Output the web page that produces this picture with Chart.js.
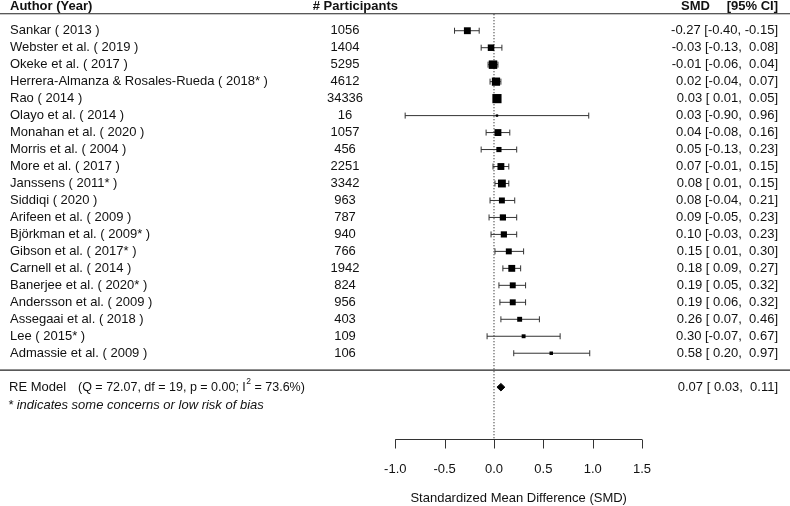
<!DOCTYPE html>
<html>
<head>
<meta charset="utf-8">
<title>Forest plot</title>
<script src="https://cdn.jsdelivr.net/npm/chart.js@4.4.1/dist/chart.umd.min.js"></script>
<style>
    html, body { margin: 0; padding: 0; background: #ffffff; }
    #wrap { width: 790px; height: 506px; position: relative; }
</style>
</head>
<body>
<div id="wrap"><canvas id="forestChart"></canvas></div>
<script>
/* ===============================
   DATA
================================ */
const authors = [
    "Sankar ( 2013 )", "Webster et al. ( 2019 )", "Okeke et al. ( 2017 )",
    "Herrera-Almanza & Rosales-Rueda ( 2018* )", "Rao ( 2014 )", "Olayo et al. ( 2014 )",
    "Monahan et al. ( 2020 )", "Morris et al. ( 2004 )", "More et al. ( 2017 )",
    "Janssens ( 2011* )", "Siddiqi ( 2020 )", "Arifeen et al. ( 2009 )",
    "Björkman et al. ( 2009* )", "Gibson et al. ( 2017* )", "Carnell et al. ( 2014 )",
    "Banerjee et al. ( 2020* )", "Andersson et al. ( 2009 )", "Assegaai et al. ( 2018 )",
    "Lee ( 2015* )", "Admassie et al. ( 2009 )"
];
const participants = [1056, 1404, 5295, 4612, 34336, 16, 1057, 456, 2251, 3342,
    963, 787, 940, 766, 1942, 824, 956, 403, 109, 106];
const smd = [-0.27, -0.03, -0.01, 0.02, 0.03, 0.03, 0.04, 0.05, 0.07, 0.08,
    0.08, 0.09, 0.10, 0.15, 0.18, 0.19, 0.19, 0.26, 0.30, 0.58];
const ciLow = [-0.40, -0.13, -0.06, -0.04, 0.01, -0.90, -0.08, -0.13, -0.01, 0.01,
    -0.04, -0.05, -0.03, 0.01, 0.09, 0.05, 0.06, 0.07, -0.07, 0.20];
const ciHigh = [-0.15, 0.08, 0.04, 0.07, 0.05, 0.96, 0.16, 0.23, 0.15, 0.15,
    0.21, 0.23, 0.23, 0.30, 0.27, 0.32, 0.32, 0.46, 0.67, 0.97];
// approximate study weights (%), judged from square sizes
const weights = [5.5, 5.1, 7.4, 7.1, 8.2, 0.3, 5.5, 3.5, 5.5, 6.7,
    4.4, 4.7, 4.7, 4.4, 5.5, 4.4, 4.4, 3.2, 2.0, 1.5];

const reEstimate = 0.07;
const reLow = 0.03;
const reHigh = 0.11;
const reLabel = "RE Model";
const reStats = ["(Q = 72.07, df = 19, p = 0.00; I", "2", " = 73.6%)"];
const noteText = "* indicates some concerns or low risk of bias";

const xTicks = [-1.0, -0.5, 0.0, 0.5, 1.0, 1.5];
const xTickLabels = ["-1.0", "-0.5", "0.0", "0.5", "1.0", "1.5"];
const xTitle = "Standardized Mean Difference (SMD)";

/* ===============================
   LAYOUT (row units on y, SMD units on x)
================================ */
const FONT = "'Liberation Sans', Arial, sans-serif";
const TEXT_COLOR = "#111111";
const LINE_COLOR = "#333333";

const X_MIN = -5.005, X_MAX = 2.999;
const Y_MIN = -0.81, Y_MAX = 29.0;

const HEADER_ROW = -0.45;
const TOP_RULE = 0;
const BOTTOM_RULE = 21;
const RE_ROW = 22;
const NOTE_ROW = 23.05;
const AXIS_ROW = 25.05;
const TICK_LABEL_ROW = 26.87;
const TITLE_ROW = 28.57;

const rows = authors.map((a, i) => i + 1);

function squareRadius(w) {
    const side = 2.2 + 0.85 * w;
    return side / Math.SQRT2;
}

function padNum(v) {
    return (v < 0 ? "" : " ") + v.toFixed(2);
}

function ciText(est, lo, hi) {
    return est.toFixed(2) + " [" + padNum(lo) + ", " + padNum(hi) + "]";
}

/* ===============================
   DATASETS
================================ */
const squareSet = {
    type: "scatter",
    data: smd.map((v, i) => ({ x: v, y: rows[i] })),
    pointStyle: "rect",
    pointRadius: weights.map(squareRadius),
    backgroundColor: "#000000",
    borderWidth: 0,
    clip: false
};

const capSet = {
    type: "scatter",
    data: rows.flatMap((r, i) => [{ x: ciLow[i], y: r }, { x: ciHigh[i], y: r }]),
    pointStyle: "line",
    rotation: 90,
    pointRadius: 3,
    borderColor: LINE_COLOR,
    borderWidth: 1,
    clip: false
};

const whiskerSets = rows.map((r, i) => ({
    type: "line",
    data: [{ x: ciLow[i], y: r }, { x: ciHigh[i], y: r }],
    borderColor: LINE_COLOR,
    borderWidth: 1,
    pointRadius: 0,
    clip: false
}));

const diamondSet = {
    type: "line",
    data: [
        { x: reLow, y: RE_ROW },
        { x: reEstimate, y: RE_ROW - 0.22 },
        { x: reHigh, y: RE_ROW },
        { x: reEstimate, y: RE_ROW + 0.22 },
        { x: reLow, y: RE_ROW }
    ],
    borderColor: "#000000",
    backgroundColor: "#000000",
    borderWidth: 1,
    fill: "shape",
    pointRadius: 0,
    tension: 0,
    clip: false
};

const nullLineSet = {
    type: "line",
    data: [{ x: 0, y: 0.03 }, { x: 0, y: AXIS_ROW }],
    borderColor: "#000000",
    borderWidth: 1,
    borderDash: [1, 2],
    pointRadius: 0,
    clip: false
};

const ruleSets = [TOP_RULE, BOTTOM_RULE].map(r => ({
    type: "line",
    data: [{ x: X_MIN, y: r }, { x: X_MAX, y: r }],
    borderColor: "#222222",
    borderWidth: 1.2,
    pointRadius: 0,
    clip: false
}));

/* ===============================
   TEXT + BOTTOM AXIS PLUGIN
================================ */
const forestText = {
    id: "forestText",
    afterDatasetsDraw(chart) {
        const { ctx } = chart;
        const x = chart.scales.x;
        const y = chart.scales.y;

        ctx.save();
        ctx.fillStyle = TEXT_COLOR;
        ctx.textBaseline = "middle";

        // headers
        ctx.font = "bold 13px " + FONT;
        const hy = y.getPixelForValue(HEADER_ROW);
        ctx.textAlign = "left";
        ctx.fillText("Author (Year)", 10, hy);
        ctx.textAlign = "right";
        ctx.fillText("# Participants", 398, hy);
        ctx.fillText("SMD", 710, hy);
        ctx.fillText("[95% CI]", 778, hy);

        // study rows
        ctx.font = "13px " + FONT;
        rows.forEach((r, i) => {
            const py = y.getPixelForValue(r);
            ctx.textAlign = "left";
            ctx.fillText(authors[i], 10, py);
            ctx.textAlign = "center";
            ctx.fillText(String(participants[i]), 345, py);
            ctx.textAlign = "right";
            ctx.fillText(ciText(smd[i], ciLow[i], ciHigh[i]), 778, py);
        });

        // summary row
        const ry = y.getPixelForValue(RE_ROW);
        ctx.textAlign = "left";
        ctx.fillText(reLabel, 9, ry);
        ctx.font = "12.5px " + FONT;
        let sx = 78;
        ctx.fillText(reStats[0], sx, ry);
        sx += ctx.measureText(reStats[0]).width;
        ctx.font = "8.5px " + FONT;
        ctx.fillText(reStats[1], sx + 0.5, ry - 6);
        sx += ctx.measureText(reStats[1]).width + 0.5;
        ctx.font = "12.5px " + FONT;
        ctx.fillText(reStats[2], sx, ry);
        ctx.font = "13px " + FONT;
        ctx.textAlign = "right";
        ctx.fillText(ciText(reEstimate, reLow, reHigh), 778, ry);

        // note
        ctx.textAlign = "left";
        ctx.font = "italic 13px " + FONT;
        ctx.fillText(noteText, 8, y.getPixelForValue(NOTE_ROW));

        // bottom axis
        const ay = Math.round(y.getPixelForValue(AXIS_ROW)) + 0.5;
        const x0 = x.getPixelForValue(xTicks[0]);
        const x1 = x.getPixelForValue(xTicks[xTicks.length - 1]);
        ctx.strokeStyle = LINE_COLOR;
        ctx.lineWidth = 1;
        ctx.beginPath();
        ctx.moveTo(x0, ay);
        ctx.lineTo(x1, ay);
        xTicks.forEach(t => {
            const tx = Math.round(x.getPixelForValue(t)) + 0.5;
            ctx.moveTo(tx, ay);
            ctx.lineTo(tx, ay + 9);
        });
        ctx.stroke();

        ctx.font = "13px " + FONT;
        ctx.textAlign = "center";
        const ty = y.getPixelForValue(TICK_LABEL_ROW);
        xTicks.forEach((t, i) => {
            ctx.fillText(xTickLabels[i], x.getPixelForValue(t), ty);
        });
        ctx.fillText(xTitle, (x0 + x1) / 2, y.getPixelForValue(TITLE_ROW));

        ctx.restore();
    }
};

/* ===============================
   CHART
================================ */
new Chart(document.getElementById("forestChart"), {
    type: "scatter",
    data: {
        datasets: [squareSet, diamondSet, capSet, ...whiskerSets, nullLineSet, ...ruleSets]
    },
    options: {
        responsive: true,
        maintainAspectRatio: false,
        animation: false,
        events: [],
        layout: { padding: 0, autoPadding: false },
        scales: {
            x: { type: "linear", min: X_MIN, max: X_MAX, display: false },
            y: { type: "linear", min: Y_MIN, max: Y_MAX, reverse: true, display: false }
        },
        plugins: {
            legend: { display: false },
            tooltip: { enabled: false },
            title: { display: false }
        }
    },
    plugins: [forestText]
});
</script>
</body>
</html>
